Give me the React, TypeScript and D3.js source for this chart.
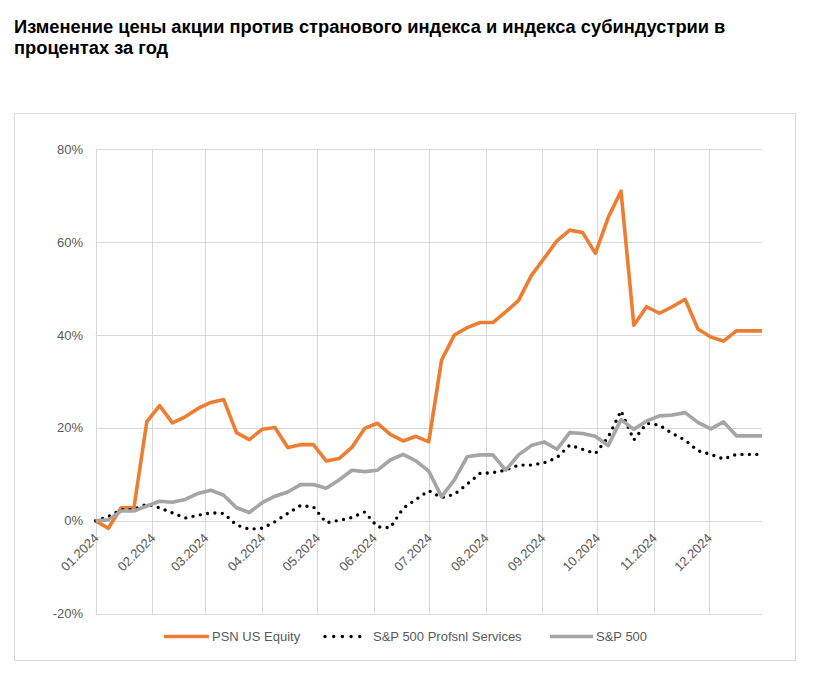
import React from 'react';
import * as d3 from 'd3';

// weekly observations, 2024
const dates = [
  '2024-01-01', '2024-01-08', '2024-01-15', '2024-01-22', '2024-01-29',
  '2024-02-05', '2024-02-12', '2024-02-19', '2024-02-26',
  '2024-03-04', '2024-03-11', '2024-03-18', '2024-03-25',
  '2024-04-01', '2024-04-08', '2024-04-15', '2024-04-22', '2024-04-29',
  '2024-05-06', '2024-05-13', '2024-05-20', '2024-05-27',
  '2024-06-03', '2024-06-10', '2024-06-17', '2024-06-24',
  '2024-07-01', '2024-07-08', '2024-07-15', '2024-07-22', '2024-07-29',
  '2024-08-05', '2024-08-12', '2024-08-19', '2024-08-26',
  '2024-09-02', '2024-09-09', '2024-09-16', '2024-09-23', '2024-09-30',
  '2024-10-07', '2024-10-14', '2024-10-21', '2024-10-28',
  '2024-11-04', '2024-11-11', '2024-11-18', '2024-11-25',
  '2024-12-02', '2024-12-09', '2024-12-16', '2024-12-23', '2024-12-30',
];

const psn = [
  0, -1.6, 2.8, 2.8, 21.3, 24.8, 21.1, 22.4, 24.2, 25.5, 26.1, 19.0, 17.5,
  19.7, 20.1, 15.8, 16.4, 16.4, 12.9, 13.4, 15.8, 19.9, 21.0, 18.6, 17.2, 18.2,
  17.0, 34.6, 40.0, 41.6, 42.7, 42.7, 45.0, 47.4, 52.8, 56.5, 60.3, 62.6, 62.1,
  57.6, 65.3, 71.0, 42.1, 46.1, 44.7, 46.1, 47.7, 41.3, 39.6, 38.7, 40.9, 40.9, 40.9,
];

const profServices = [
  0, 0.9, 2.4, 2.5, 3.6, 2.8, 1.7, 0.6, 1.2, 1.7, 1.6, -0.9, -1.8,
  -1.6, -0.2, 1.6, 3.3, 3.0, -0.4, 0.1, 0.7, 1.9, -1.3, -1.5, 2.7, 4.6,
  6.5, 5.0, 5.7, 7.9, 10.2, 10.4, 10.9, 12.0, 12.0, 12.5, 13.6, 16.3, 15.4,
  14.5, 18.0, 23.7, 17.4, 21.0, 20.6, 18.8, 17.4, 15.1, 14.3, 13.3, 14.3, 14.3, 14.3,
];

const sp500 = [
  0, 0.2, 2.1, 2.1, 3.2, 4.2, 4.0, 4.6, 5.9, 6.6, 5.5, 2.8, 1.8,
  3.9, 5.3, 6.2, 7.8, 7.8, 7.0, 8.8, 10.9, 10.6, 10.9, 13.1, 14.3, 12.9,
  10.7, 5.2, 8.8, 13.8, 14.2, 14.2, 10.9, 14.2, 16.2, 17.0, 15.4, 19.0, 18.8,
  18.2, 16.2, 21.8, 19.7, 21.5, 22.6, 22.8, 23.3, 21.2, 19.8, 21.3, 18.3, 18.3, 18.3,
];

const yTicks = [-20, 0, 20, 40, 60, 80];

const title = [
  'Изменение цены акции против странового индекса и индекса субиндустрии в',
  'процентах за год',
];

const seriesNames = ['PSN US Equity', 'S&P 500 Profsnl Services', 'S&P 500'];

const W = 815;
const H = 673;
const font = '"Liberation Sans", Arial, sans-serif';
const grid = '#d9d9d9';
const textGray = '#595959';

export default function App() {
  const parse = d3.timeParse('%Y-%m-%d');
  const t = dates.map((d) => parse(d) as Date);

  const x = d3.scaleTime([t[0], t[t.length - 1]], [95.5, 762]);
  const y = d3.scaleLinear([-20, 80], [613.7, 149.3]);

  const months = d3.timeMonth.range(t[0], new Date(2024, 11, 2));
  const fmt = d3.timeFormat('%m.%Y');

  const line = d3
    .line<number>()
    .x((_, i) => x(t[i]))
    .y((d) => y(d));

  const series = [
    { name: seriesNames[0], data: psn, color: '#ed7d31', width: 3.6, dash: null },
    { name: seriesNames[1], data: profServices, color: '#000000', width: 3.4, dash: '0 7.4' },
    { name: seriesNames[2], data: sp500, color: '#a5a5a5', width: 3.6, dash: null },
  ];

  const legend = [
    { x0: 164, x1: 209, tx: 212 },
    { x0: 325, x1: 368, tx: 373 },
    { x0: 550, x1: 593, tx: 596 },
  ];

  return (
    <svg
      width={W}
      height={H}
      style={{ position: 'absolute', left: 0, top: 0 }}
      fontFamily={font}
    >
      <rect width={W} height={H} fill="#fff" />
      {title.map((s, i) => (
        <text key={i} x={14} y={33 + i * 21} fontSize={18.3} fontWeight="bold" fill="#000">
          {s}
        </text>
      ))}
      <rect x={14.5} y={113.5} width={781} height={547} fill="none" stroke={grid} />

      <g stroke={grid} strokeWidth={1}>
        {yTicks.map((v) => (
          <line key={v} x1={95.5} x2={762} y1={Math.round(y(v)) + 0.5} y2={Math.round(y(v)) + 0.5} />
        ))}
        {months.map((m) => (
          <line
            key={+m}
            x1={Math.round(x(m)) + 0.5}
            x2={Math.round(x(m)) + 0.5}
            y1={y(80)}
            y2={y(-20)}
          />
        ))}
      </g>

      <g fontSize={13} fill={textGray} textAnchor="end">
        {yTicks.map((v) => (
          <text key={v} x={83} y={y(v)} dy="0.35em">
            {v + '%'}
          </text>
        ))}
        {months.map((m) => (
          <text key={+m} transform={`translate(${x(m) + 4},${y(0) + 18}) rotate(-45)`}>
            {fmt(m)}
          </text>
        ))}
      </g>

      {series.map((s) => (
        <path
          key={s.name}
          d={line(s.data) as string}
          fill="none"
          stroke={s.color}
          strokeWidth={s.width}
          strokeLinejoin="round"
          strokeLinecap={s.dash ? 'round' : 'butt'}
          strokeDasharray={s.dash ?? undefined}
        />
      ))}

      <g fontSize={13} fill={textGray}>
        {series.map((s, i) => (
          <g key={s.name}>
            <line
              x1={legend[i].x0}
              x2={legend[i].x1}
              y1={636.5}
              y2={636.5}
              stroke={s.color}
              strokeWidth={s.width}
              strokeLinecap={s.dash ? 'round' : 'butt'}
              strokeDasharray={s.dash ? '0 8.7' : undefined}
            />
            <text x={legend[i].tx} y={636.5} dy="0.35em">
              {s.name}
            </text>
          </g>
        ))}
      </g>
    </svg>
  );
}
